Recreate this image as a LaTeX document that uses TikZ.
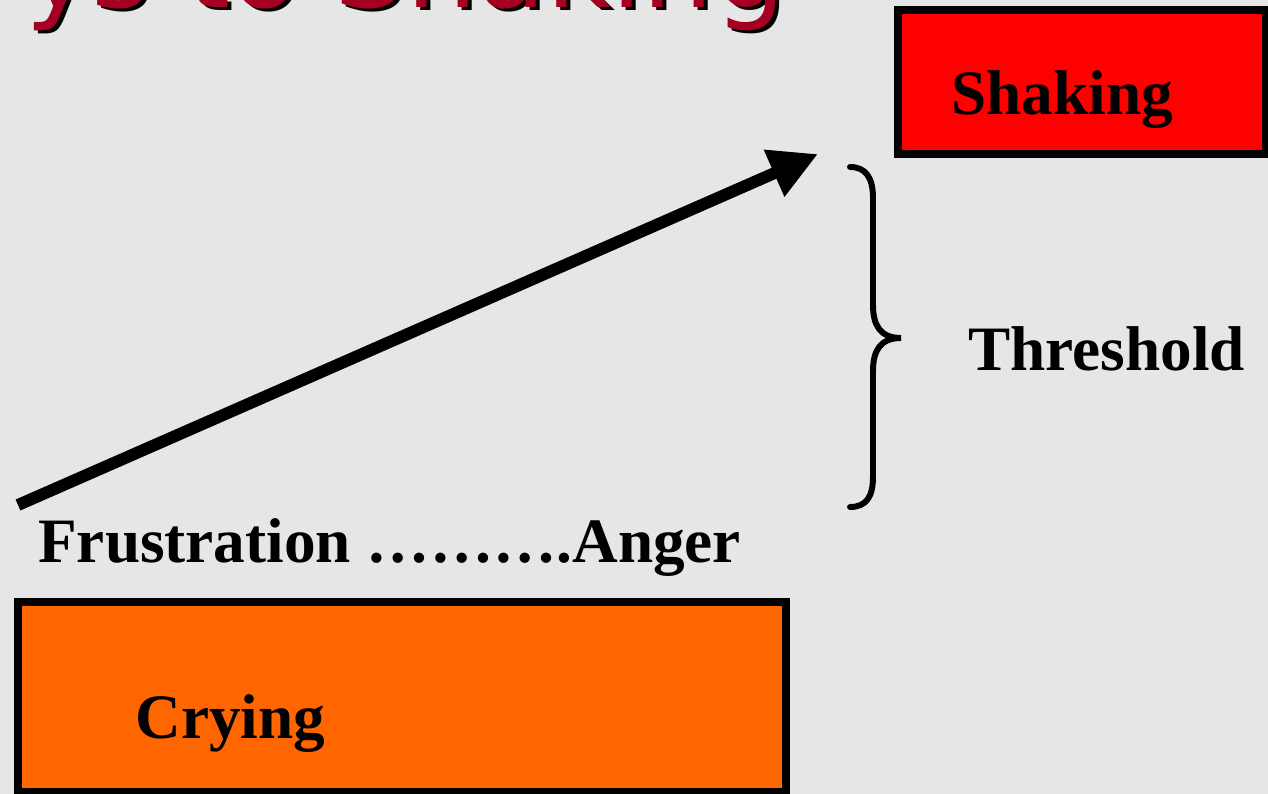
\documentclass[tikz,border=0pt]{standalone}
\usepackage{fontspec}
\setmainfont{Liberation Serif}
\newfontfamily\titlefont{DejaVu Sans}
\usetikzlibrary{arrows.meta}
\definecolor{bg}{RGB}{230,230,230}
\definecolor{titlered}{RGB}{165,0,33}
\definecolor{cryorange}{RGB}{255,102,0}
\definecolor{shakered}{RGB}{255,0,0}
\tikzset{
	box/.style={draw=black, line width=4.5pt, inner sep=0pt},
	word/.style={anchor=base west, inner sep=0pt, font=\fontsize{36}{43}\selectfont\bfseries},
	headline/.style={anchor=base west, inner sep=0pt, font=\fontsize{64}{72}\selectfont\titlefont},
	rise/.style={line width=6.8pt, -{Triangle[length=0.96cm,width=0.96cm]}},
	bracket/.style={line width=3.4pt, line cap=round}
}

\begin{document}
\begin{tikzpicture}[x=0.02cm,y=-0.02cm]
\fill[bg] (0,0) rectangle (1268,794);
\useasboundingbox (0,0) rectangle (1268,794);
\begin{scope}
	\clip (0,0) rectangle (1268,794);
	\node[headline, text=black] (shadow) at (29,11) {ys to Shaking};
	\node[headline, text=titlered] (title) at (25,8) {ys to Shaking};
	\node[box, fill=shakered, minimum width=7.36cm, minimum height=2.88cm] (shakebox) at (1082,82) {};
	\node[box, fill=cryorange, minimum width=15.36cm, minimum height=3.8cm] (crybox) at (402,697) {};
\end{scope}
\node[word] (shaking) at (951,114) {Shaking};
\node[word] (crying) at (135,738) {Crying};
\node[word] (scale) at (38,562) {Frustration ……….Anger};
\node[word] (threshold) at (968,370) {Threshold};
\coordinate (low) at (18,505);
\coordinate (high) at (818,154);
\draw[rise] (low) -- (high);
\draw[bracket] (850,167) .. controls (866,167) and (873,178) .. (873,198) -- (873,305)
	.. controls (873,325) and (880,338) .. (901,338)
	.. controls (880,338) and (873,351) .. (873,371) -- (873,477)
	.. controls (873,497) and (866,507) .. (850,507);
\end{tikzpicture}
\end{document}
